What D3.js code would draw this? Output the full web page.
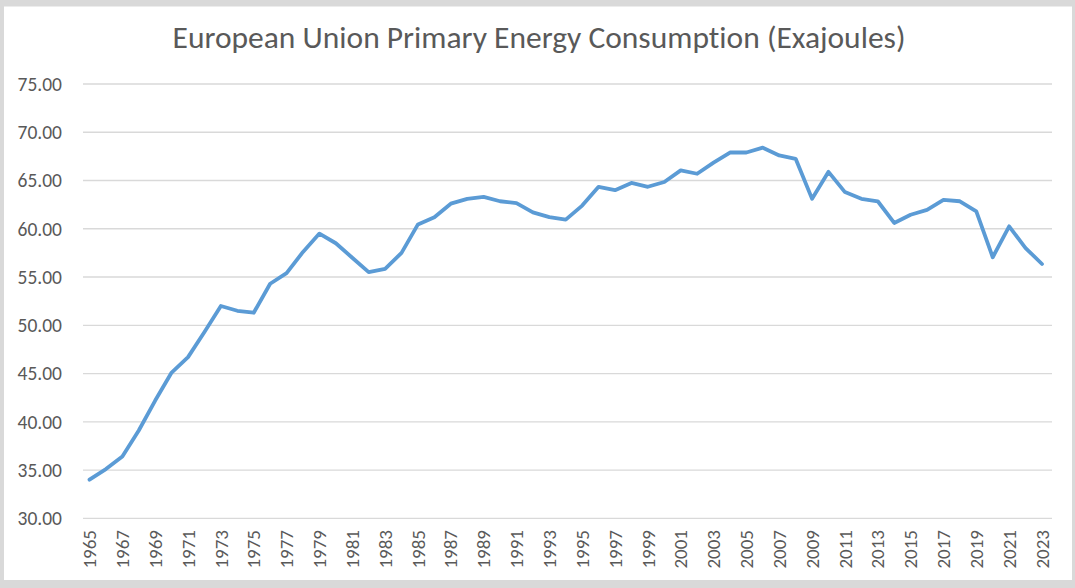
<!DOCTYPE html>
<html>
<head>
<meta charset="utf-8">
<script src="https://cdnjs.cloudflare.com/ajax/libs/d3/7.8.5/d3.min.js"></script>
<style>
    body { margin: 0; background: #d9d9d9; }
    div.chart { width: 1075px; height: 588px; }
    svg text {
        font-variant-ligatures: none;
        font-feature-settings: 'liga' 0, 'clig' 0, 'dlig' 0, 'calt' 0;
    }
</style>
</head>
<body>
<div class="chart"></div>
<script>
let width = 1075
let height = 588

let title = 'European Union Primary Energy Consumption (Exajoules)'

let years = d3.range(1965, 2024)
let consumption = [
    34.0, 35.1, 36.4, 39.1, 42.2, 45.1, 46.7, 49.3, 52.0, 51.5,
    51.3, 54.3, 55.4, 57.6, 59.5, 58.5, 57.0, 55.5, 55.85, 57.5,
    60.45, 61.2, 62.6, 63.1, 63.3, 62.85, 62.65, 61.7, 61.2, 60.95,
    62.4, 64.35, 64.0, 64.75, 64.35, 64.85, 66.05, 65.7, 66.85, 67.9,
    67.9, 68.4, 67.6, 67.25, 63.1, 65.9, 63.8, 63.1, 62.85, 60.6,
    61.45, 61.95, 63.0, 62.85, 61.8, 57.05, 60.25, 58.0, 56.35
]
let yTicks = [30, 35, 40, 45, 50, 55, 60, 65, 70, 75]
let xLabels = years.filter((d, i) => i % 2 == 0)

let fontFamily = "Carlito, 'Open Sans', sans-serif"
let textColor = '#595959'

let plotLeft = 83
let plotRight = 1052

let x = d3.scalePoint()
    .domain(years)
    .range([89.5, 1042])
let y = d3.scaleLinear()
    .domain([30, 75])
    .range([518.3, 84])

let svg = d3.select('div.chart')
    .append('svg')
    .attr('width', width)
    .attr('height', height)
    .style('font-family', fontFamily)

// white chart area inside the grey frame
svg.append('rect')
    .attr('x', 4)
    .attr('y', 6.5)
    .attr('width', 1068)
    .attr('height', 573.5)
    .style('fill', 'white')

svg.append('text')
    .attr('x', 539)
    .attr('y', 48)
    .attr('text-anchor', 'middle')
    .style('font-size', '31.5px')
    .style('fill', textColor)
    .text(title)

// horizontal gridlines
svg.append('g')
    .selectAll('line')
    .data(yTicks)
    .enter()
    .append('line')
    .attr('x1', plotLeft)
    .attr('x2', plotRight)
    .attr('y1', d => y(d))
    .attr('y2', d => y(d))
    .style('stroke', '#d9d9d9')
    .style('stroke-width', 1.3)

// y axis labels
svg.append('g')
    .selectAll('text')
    .data(yTicks)
    .enter()
    .append('text')
    .attr('x', 62)
    .attr('y', d => y(d))
    .attr('dy', '0.35em')
    .attr('text-anchor', 'end')
    .style('font-size', '19.5px')
    .style('fill', textColor)
    .text(d => d.toFixed(2))

// x axis labels, every other year, rotated
svg.append('g')
    .selectAll('text')
    .data(xLabels)
    .enter()
    .append('text')
    .attr('transform', d => 'translate(' + x(d) + ',530) rotate(-90)')
    .attr('dy', '0.35em')
    .attr('text-anchor', 'end')
    .style('font-size', '19px')
    .style('fill', textColor)
    .text(d => d)

let line = d3.line()
    .x((d, i) => x(years[i]))
    .y(d => y(d))

svg.append('path')
    .datum(consumption)
    .attr('d', line)
    .style('fill', 'none')
    .style('stroke', '#5b9bd5')
    .style('stroke-width', 3.8)
    .style('stroke-linejoin', 'round')
    .style('stroke-linecap', 'round')
</script>
</body>
</html>
